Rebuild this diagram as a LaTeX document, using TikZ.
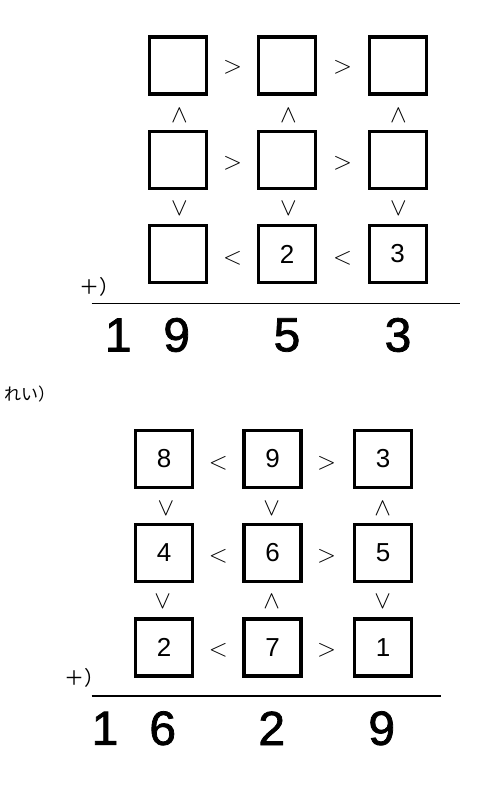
\documentclass[tikz,border=0pt]{standalone}
\usepackage{fontspec}
\setmainfont{Liberation Sans}
\newfontfamily\jp{Noto Sans CJK JP}
\newfontfamily\bigdigits[FakeBold=1.6]{Liberation Sans}
\begin{document}
\begin{tikzpicture}[x=1pt,y=-1pt,
  cell/.style={draw,line width=3.2pt,minimum size=57pt,inner sep=0pt,font=\fontsize{26}{26}\selectfont},
  rel/.style={inner sep=0pt,font=\fontsize{42}{42}\selectfont},
  vrel/.style={inner sep=0pt,font=\fontsize{34}{34}\selectfont},
  big/.style={inner sep=0pt,font=\bigdigits\fontsize{48}{48}\selectfont},
  plus/.style={inner sep=0pt,font=\jp\fontsize{20}{20}\selectfont},
  sumline/.style={line width=1.6pt}]
\useasboundingbox (0,0) rectangle (500,788);
% ---------- top puzzle ----------
\node[cell] (t11) at (178,65.5) {};
\node[cell] (t12) at (287,65.5) {};
\node[cell] (t13) at (397.7,65.5) {};
\node[cell] (t21) at (178,159.7) {};
\node[cell] (t22) at (287,159.7) {};
\node[cell] (t23) at (397.7,159.7) {};
\node[cell] (t31) at (178,254) {};
\node[cell] (t32) at (287,254) {2};
\node[cell] (t33) at (397.7,254) {3};
\node[rel] (th11) at (232.7,67.7) {$>$};
\node[rel] (th12) at (342.7,67.7) {$>$};
\node[rel] (th21) at (232.7,163.3) {$>$};
\node[rel] (th22) at (342.7,163.3) {$>$};
\node[rel] (th31) at (232.7,258.3) {$<$};
\node[rel] (th32) at (342.7,258.3) {$<$};
\node[vrel] (tv11) at (179.3,116) {$\wedge$};
\node[vrel] (tv12) at (288.3,116) {$\wedge$};
\node[vrel] (tv13) at (398.3,116) {$\wedge$};
\node[vrel] (tv21) at (179.3,208.3) {$\vee$};
\node[vrel] (tv22) at (288.3,208.3) {$\vee$};
\node[vrel] (tv23) at (398.3,208.3) {$\vee$};
\node[plus,anchor=west] (tplus) at (79,286.7) {＋）};
\coordinate (tl1) at (91.7,303.3);
\coordinate (tl2) at (460,303.3);
\draw[sumline] (tl1) -- (tl2);
\node[big] (ts1) at (118.3,335) {1};
\node[big] (ts2) at (176.7,335) {9};
\node[big] (ts3) at (287,335) {5};
\node[big] (ts4) at (398,335) {3};
% ---------- example label ----------
\node[inner sep=0pt,anchor=west,font=\jp\fontsize{17}{17}\selectfont] (rei) at (4,394) {れい）};
% ---------- bottom puzzle ----------
\node[cell] (b11) at (164,458.7) {8};
\node[cell] (b12) at (272.5,458.7) {9};
\node[cell] (b13) at (383,458.7) {3};
\node[cell] (b21) at (164,553) {4};
\node[cell] (b22) at (272.5,553) {6};
\node[cell] (b23) at (383,553) {5};
\node[cell] (b31) at (164,647.5) {2};
\node[cell] (b32) at (272.5,647.5) {7};
\node[cell] (b33) at (383,647.5) {1};
\node[rel] (bh11) at (218.3,463.3) {$<$};
\node[rel] (bh12) at (326.7,463.3) {$>$};
\node[rel] (bh21) at (218.3,556) {$<$};
\node[rel] (bh22) at (326.7,556) {$>$};
\node[rel] (bh31) at (218.3,650) {$<$};
\node[rel] (bh32) at (326.7,650) {$>$};
\node[vrel] (bv11) at (166,508.3) {$\vee$};
\node[vrel] (bv12) at (271.7,508.3) {$\vee$};
\node[vrel] (bv13) at (382.7,508.3) {$\wedge$};
\node[vrel] (bv21) at (162.7,601.7) {$\vee$};
\node[vrel] (bv22) at (271.7,601.7) {$\wedge$};
\node[vrel] (bv23) at (382.7,601.7) {$\vee$};
\node[plus,anchor=west] (bplus) at (64,678) {＋）};
\coordinate (bl1) at (91.7,696);
\coordinate (bl2) at (441,696);
\draw[sumline] (bl1) -- (bl2);
\node[big] (bs1) at (105,728.3) {1};
\node[big] (bs2) at (162.7,728.3) {6};
\node[big] (bs3) at (271.7,728.3) {2};
\node[big] (bs4) at (381.7,728.3) {9};
\end{tikzpicture}
\end{document}
